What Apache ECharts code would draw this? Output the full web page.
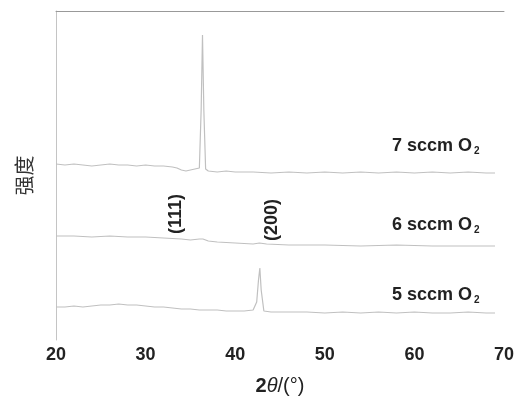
<!DOCTYPE html>
<html><head><meta charset="utf-8">
<script src="https://cdn.jsdelivr.net/npm/echarts@6/dist/echarts.min.js"></script>
<style>html,body{margin:0;padding:0;background:#fff;}#c{width:517px;height:401px;}</style>
</head><body><div id="c"></div>
<script>
// 2θ ticks
const xTicks = [20, 30, 40, 50, 60, 70];
const seriesNames = ['7 sccm O2', '6 sccm O2', '5 sccm O2'];
// 7 sccm O2 (offset intensity, arbitrary units)
const x7 = [20,21,22,23,24,25,26,27,28,29,30,31,32,33,33.5,34,34.5,35,35.5,36,36.2,36.35,36.5,36.7,37,38,39,40,42,44,46,48,50,52,54,56,58,60,62,64,66,68,69];
const y7 = [176,175,176,175,174,175,176,175,175,174,175,174,174,173,172,170,169,170,171,172,230,305,230,171,169,168,169,168,168,167,168,167,168,167,168,167,168,167,168,167,168,167,167];
// 6 sccm O2
const x6 = [20,22,24,26,28,30,32,34,35,36,36.4,37,38,40,42,42.7,43.5,46,50,54,58,62,66,69];
const y6 = [104,104,103,104,103,103,102,101,100,101,101,99,98,97,96,97,96,95,95,94,95,94,94,94];
// 5 sccm O2
const x5 = [20,21,22,23,24,25,26,27,28,29,30,31,32,33,34,35,36,37,38,39,40,41,42,42.4,42.6,42.75,42.9,43.2,44,46,48,50,52,54,56,58,60,62,64,66,68,69];
const y5 = [33,33,34,33,34,35,35,36,35,35,34,33,33,32,31,31,30,30,30,29,29,29,30,38,60,72,50,29,28,28,28,27,28,27,28,27,28,27,27,28,27,27];

const zip = (xs, ys) => xs.map((x, i) => [x, ys[i]]);
const chart = echarts.init(document.getElementById('c'));
const lineColor = '#c0c0c0';
const lblFont = 'Liberation Sans, Arial, sans-serif';
function sampleLabel(txt, left, top) {
  return {
    type: 'text', left: left, top: top,
    style: {
      text: '{a|' + txt + '}{s|2}',
      rich: {
        a: { fontFamily: lblFont, fontWeight: 'bold', fontSize: 18, fill: '#222' },
        s: { fontFamily: lblFont, fontWeight: 'bold', fontSize: 10, fill: '#222', padding: [11, 0, 0, 2] }
      }
    }
  };
}
chart.setOption({
  animation: false,
  backgroundColor: '#fff',
  grid: { left: 56, right: 13, top: 11, bottom: 61 },
  xAxis: [{
    type: 'value', min: 20, max: 70, interval: 10,
    axisLine: { show: false }, axisTick: { show: false }, splitLine: { show: false },
    axisLabel: { color: '#222', fontFamily: lblFont, fontWeight: 'bold', fontSize: 18, margin: 6,
      formatter: v => xTicks.includes(v) ? String(v) : '' },
    name: '{b|2}{i|θ}{n|/(°)}', nameLocation: 'middle', nameGap: 36,
    nameTextStyle: { rich: {
      b: { fontFamily: lblFont, fontWeight: 'bold', fontSize: 20, color: '#222' },
      i: { fontFamily: lblFont, fontStyle: 'italic', fontSize: 20, color: '#222' },
      n: { fontFamily: lblFont, fontSize: 20, color: '#222' }
    } }
  }, {
    type: 'value', min: 20, max: 70, position: 'top',
    axisLine: { show: true, lineStyle: { color: '#999', width: 1 } },
    axisTick: { show: false }, axisLabel: { show: false }, splitLine: { show: false }
  }],
  yAxis: {
    type: 'value', min: 0, max: 329,
    axisLine: { show: true, lineStyle: { color: '#c4c4c4', width: 1 } },
    axisTick: { show: false }, axisLabel: { show: false }, splitLine: { show: false },
    name: '强度', nameLocation: 'middle', nameRotate: 90, nameGap: 22,
    nameTextStyle: { fontFamily: 'Noto Sans CJK SC', fontSize: 20, color: '#333' }
  },
  series: [
    { name: seriesNames[0], type: 'line', data: zip(x7, y7), showSymbol: false, lineStyle: { color: lineColor, width: 1.2 } },
    { name: seriesNames[1], type: 'line', data: zip(x6, y6), showSymbol: false, lineStyle: { color: lineColor, width: 1.2 } },
    { name: seriesNames[2], type: 'line', data: zip(x5, y5), showSymbol: false, lineStyle: { color: lineColor, width: 1.2 } }
  ],
  graphic: [
    sampleLabel('7 sccm O', 392, 137),
    sampleLabel('6 sccm O', 392, 216),
    sampleLabel('5 sccm O', 392, 286),
    { type: 'text', x: 176, y: 214, rotation: Math.PI / 2,
      style: { text: '(111)', fontFamily: lblFont, fontWeight: 'bold', fontSize: 18, fill: '#222', align: 'center', verticalAlign: 'middle' } },
    { type: 'text', x: 272, y: 220, rotation: Math.PI / 2,
      style: { text: '(200)', fontFamily: lblFont, fontWeight: 'bold', fontSize: 18, fill: '#222', align: 'center', verticalAlign: 'middle' } }
  ]
});
</script></body></html>
